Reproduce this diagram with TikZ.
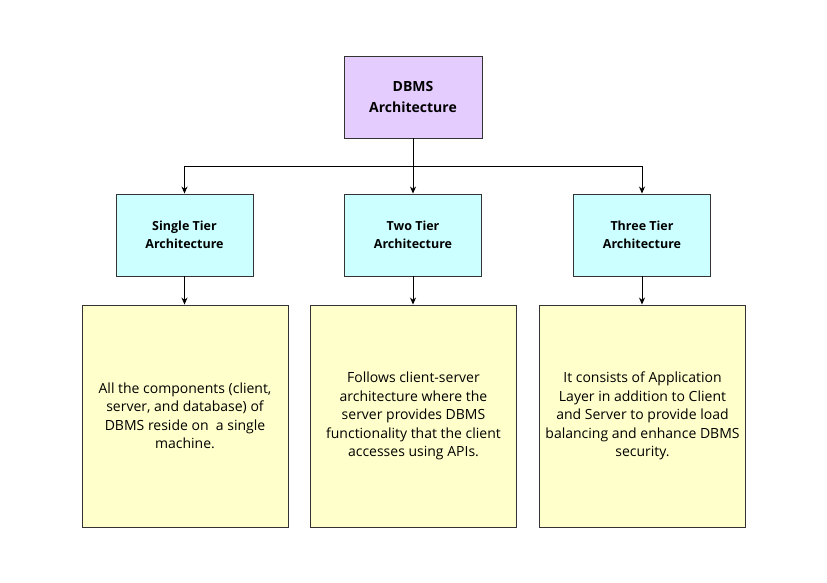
\documentclass[tikz,border=0pt]{standalone}
\usepackage{fontspec}
\setmainfont{Open Sans}
\usetikzlibrary{arrows.meta}
\definecolor{lav}{HTML}{E5CCFF}
\definecolor{cyanbox}{HTML}{CCFFFF}
\definecolor{yelbox}{HTML}{FFFFCC}
\definecolor{edge}{HTML}{333333}
\begin{document}
\begin{tikzpicture}[x=1pt,y=-1pt,
  boxbase/.style={draw=edge, line width=0.9pt, align=center, inner sep=0pt},
  topbox/.style={boxbase, fill=lav, minimum width=138pt, minimum height=82pt, font=\bfseries\fontsize{14}{21}\selectfont},
  tierbox/.style={boxbase, fill=cyanbox, minimum width=137pt, minimum height=82pt, font=\bfseries\fontsize{12.5}{18}\selectfont},
  descbox/.style={boxbase, fill=yelbox, minimum width=206pt, minimum height=222pt, font=\fontsize{14}{18.5}\selectfont},
  conn/.style={draw=black, line width=0.9pt},
  arr/.style={conn, -{Stealth[length=7pt,width=6pt]}}]
\useasboundingbox (0,0) rectangle (827,583);
\fill[white] (0,0) rectangle (827,583);
\node[topbox] (top) at (413,97) {DBMS\\Architecture};
\node[tierbox] (t1) at (184.5,235) {Single Tier\\Architecture};
\node[tierbox] (t2) at (413,235) {Two Tier\\Architecture};
\node[tierbox] (t3) at (642,235) {Three Tier\\Architecture};
\node[descbox] (d1) at (185,416) {All the components (client,\\server, and database) of\\DBMS reside on\ \ a single\\machine.};
\node[descbox] (d2) at (413.5,416) {Follows client-server\\architecture where the\\server provides DBMS\\functionality that the client\\accesses using APIs.};
\node[descbox] (d3) at (642.5,416) {It consists of Application\\Layer in addition to Client\\and Server to provide load\\balancing and enhance DBMS\\security.};
\coordinate (j) at (413,166);
\draw[arr] (top.south) -- (t2.north);
\draw[arr] (j) -| (t1.north);
\draw[arr] (j) -| (t3.north);
\draw[arr] (t1.south) -- (t1.south |- d1.north);
\draw[arr] (t2.south) -- (t2.south |- d2.north);
\draw[arr] (t3.south) -- (t3.south |- d3.north);
\end{tikzpicture}
\end{document}
